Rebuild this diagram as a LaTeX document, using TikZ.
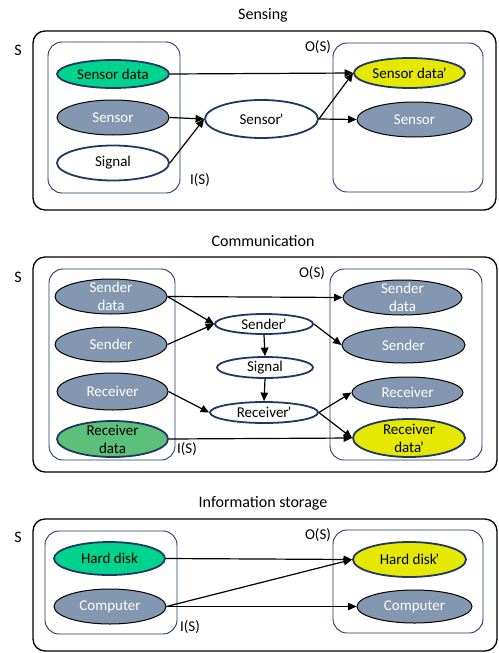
\documentclass[tikz,border=0pt]{standalone}
\usepackage{fontspec}
\setmainfont{Carlito}
\usetikzlibrary{shapes.geometric,arrows.meta}
\definecolor{navy}{HTML}{1F3864}
\definecolor{grayb}{HTML}{8497B0}
\definecolor{greenA}{HTML}{00D38E}
\definecolor{greenB}{HTML}{5CBF7A}
\definecolor{yellowA}{HTML}{E5E800}
\newcommand{\pr}{\kern-1.2pt’}
\tikzset{
  ell/.style={ellipse, inner sep=0pt, minimum width=#1},
  gell/.style={ell=#1, fill=grayb, draw=black, line width=1pt},
  nell/.style={ell=#1, draw=navy, line width=1.8pt},
  outerbox/.style={draw=black, line width=1.3pt, rounded corners=12pt},
  innerbox/.style={draw=navy, line width=0.9pt, rounded corners=14pt},
  wt/.style={text=white, font=\fontsize{15}{18}\selectfont, align=center, inner sep=0pt},
  bt/.style={text=black, font=\fontsize{15}{18}\selectfont, align=center, inner sep=0pt},
  ttl/.style={font=\fontsize{16}{19}\selectfont, inner sep=0pt},
  lbl/.style={font=\fontsize{15}{18}\selectfont, inner sep=0pt},
  arr/.style={-{Triangle[length=8.5pt,width=7.5pt]}, line width=1.2pt}
}
\begin{document}
\begin{tikzpicture}[x=1pt,y=-1pt]
\useasboundingbox (0,0) rectangle (498,653);
% ---------------- Sensing
\node[ttl] (t1) at (263,15) {Sensing};
\node[ttl] (s1) at (18,50) {S};
\draw[outerbox] (33,31) rectangle (496,210);
\draw[innerbox] (48,42) rectangle (180,193);
\draw[innerbox] (333,43) rectangle (483,192);
\node[lbl] (o1) at (318,47) {O(S)};
\node[lbl] (i1) at (200,180) {I(S)};
\node[nell=112, minimum height=28, fill=greenA] (sd) at (113,74) {};
\node[bt] at (sd) {Sensor data};
\node[gell=112, minimum height=35] (sen) at (113,117.5) {};
\node[wt] at (sen) {Sensor};
\node[nell=112, minimum height=35, fill=white] (sig) at (113,163) {};
\node[bt] at (sig) {Signal};
\node[nell=113, minimum height=38, fill=white] (senp) at (261.5,119) {};
\node[bt] at (senp) {Sensor\pr};
\node[nell=111, minimum height=30, fill=yellowA] (sdp) at (409.5,73) {};
\node[bt] at (sdp) {Sensor data\pr};
\node[gell=115, minimum height=35] (senR) at (414.5,119.5) {};
\node[wt] at (senR) {Sensor};
\draw[arr] (sd.east) -- (sdp.west);
\draw[arr] (sen.east) -- (senp.west);
\draw[arr] (sig.east) -- (senp.west);
\draw[arr] (senp.east) -- (sdp.west);
\draw[arr] (senp.east) -- (senR.west);
% ---------------- Communication
\node[ttl] (t2) at (263,241) {Communication};
\node[ttl] (s2) at (18,277) {S};
\draw[outerbox] (33,257) rectangle (497,472);
\draw[innerbox] (49,269) rectangle (175,460);
\draw[innerbox] (330,269) rectangle (482,460);
\node[lbl] (o2) at (312,273) {O(S)};
\node[lbl] (i2) at (187,449) {I(S)};
\node[gell=112, minimum height=35] (cSDL) at (111,296.5) {};
\node[wt] at (cSDL) {Sender\\data};
\node[gell=112, minimum height=35] (cSL) at (111,344.5) {};
\node[wt] at (cSL) {Sender};
\node[gell=111, minimum height=37] (cRL) at (112.5,391.5) {};
\node[wt] at (cRL) {Receiver};
\node[nell=111, minimum height=36, fill=greenB] (cRDL) at (112.5,439) {};
\node[bt] at (cRDL) {Receiver\\data};
\node[nell=98, minimum height=20, fill=white] (cSp) at (264,324) {};
\node[bt] at (cSp) {Sender\pr};
\node[nell=96, minimum height=21, fill=white] (cSig) at (265,367.5) {};
\node[bt] at (cSig) {Signal};
\node[nell=108, minimum height=21, fill=white] (cRp) at (264,412.5) {};
\node[bt] at (cRp) {Receiver\pr};
\node[gell=119, minimum height=35] (cSDR) at (402.5,297.5) {};
\node[wt] at (cSDR) {Sender\\data};
\node[gell=123, minimum height=36] (cSR) at (403.5,345) {};
\node[wt] at (cSR) {Sender};
\node[gell=111, minimum height=31] (cRR) at (407.5,392.5) {};
\node[wt] at (cRR) {Receiver};
\node[nell=112, minimum height=38, fill=yellowA] (cRDR) at (409,438) {};
\node[bt] at (cRDR) {Receiver\\data\pr};
\draw[arr] (cSDL.east) -- (cSDR.west);
\draw[arr] (cSDL.east) -- (cSp.west);
\draw[arr] (cSL.east) -- (cSp.west);
\draw[arr] (cSp.east) -- (cSR.west);
\draw[arr] (cSp.south) -- (cSig.north);
\draw[arr] (cSig.south) -- (cRp.north);
\draw[arr] (cRL.east) -- (cRp.west);
\draw[arr] (cRp.east) -- (cRR.west);
\draw[arr] (cRp.east) -- (cRDR.west);
\draw[arr] (cRDL.east) -- (cRDR.west);
% ---------------- Information storage
\node[ttl] (t3) at (263,503) {Information storage};
\node[ttl] (s3) at (18,537) {S};
\draw[outerbox] (33,519) rectangle (497,651);
\draw[innerbox] (45,531) rectangle (177,634);
\draw[innerbox] (333,530) rectangle (483,633);
\node[lbl] (o3) at (318,535) {O(S)};
\node[lbl] (i3) at (190,627) {I(S)};
\node[nell=111, minimum height=33, fill=greenA] (hd) at (109.5,558.5) {};
\node[bt] at (hd) {Hard disk};
\node[gell=112, minimum height=35] (compL) at (110,606.5) {};
\node[wt] at (compL) {Computer};
\node[nell=113, minimum height=35, fill=yellowA] (hdp) at (409.5,559.5) {};
\node[bt] at (hdp) {Hard disk\pr};
\node[gell=115, minimum height=33] (compR) at (414.5,606.5) {};
\node[wt] at (compR) {Computer};
\draw[arr] (hd.east) -- (hdp.west);
\draw[arr] (compL.east) -- (hdp.west);
\draw[arr] (compL.east) -- (compR.west);
\end{tikzpicture}
\end{document}
